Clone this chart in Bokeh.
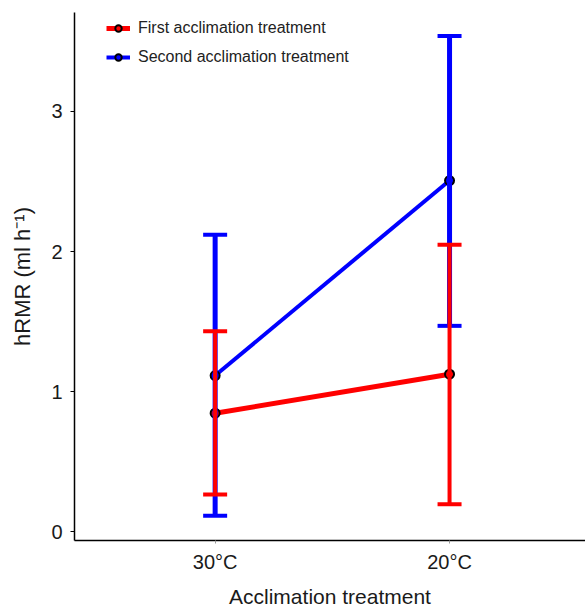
from bokeh.plotting import figure
from bokeh.models import ColumnDataSource, Whisker, TeeHead, FixedTicker, Legend, LegendItem
from bokeh.embed import file_html
from bokeh.resources import INLINE

categories = ["30°C", "20°C"]
first_mean = [0.845, 1.124]
first_upper = [1.43, 2.048]
first_lower = [0.264, 0.195]
second_mean = [1.114, 2.507]
second_upper = [2.12, 3.54]
second_lower = [0.112, 1.469]
series_names = ["First acclimation treatment", "Second acclimation treatment"]

xpos = [i + 1 for i in range(len(categories))]
FONT = "Liberation Sans"

p = figure(width=585, height=610, output_backend="svg", toolbar_location=None,
           x_range=(0.4, 2.58), y_range=(-0.064, 3.707),
           min_border_left=74, min_border_right=0, min_border_top=12, min_border_bottom=70)
p.outline_line_color = None
p.grid.visible = False
p.background_fill_color = "white"

src1 = ColumnDataSource(dict(x=xpos, m=first_mean, u=first_upper, l=first_lower))
src2 = ColumnDataSource(dict(x=xpos, m=second_mean, u=second_upper, l=second_lower))

w2 = Whisker(source=src2, base="x", upper="u", lower="l", line_color="#0000ff", line_width=5,
             upper_head=TeeHead(size=24, line_color="#0000ff", line_width=4),
             lower_head=TeeHead(size=24, line_color="#0000ff", line_width=4), level="glyph")
w1 = Whisker(source=src1, base="x", upper="u", lower="l", line_color="#ff0000", line_width=4,
             upper_head=TeeHead(size=24, line_color="#ff0000", line_width=4),
             lower_head=TeeHead(size=24, line_color="#ff0000", line_width=4), level="glyph")
p.add_layout(w2)
p.add_layout(w1)

l2 = p.line("x", "m", source=src2, line_color="#0000ff", line_width=4)
l1 = p.line("x", "m", source=src1, line_color="#ff0000", line_width=5)
c2 = p.scatter("x", "m", source=src2, size=9, fill_color="#0000ff", line_color="black", line_width=2)
c1 = p.scatter("x", "m", source=src1, size=9, fill_color="#ff0000", line_color="black", line_width=2)

legend = Legend(items=[LegendItem(label=series_names[0], renderers=[l1, c1]),
                       LegendItem(label=series_names[1], renderers=[l2, c2])],
                location="top_left", margin=0, padding=0, spacing=11,
                glyph_width=24, glyph_height=16, label_height=16, label_standoff=8,
                label_text_font=FONT, label_text_font_size="16px", label_text_color="#222222",
                border_line_color=None, background_fill_alpha=0)
p.add_layout(legend)
legend.location = (32, 474)

p.xaxis.ticker = FixedTicker(ticks=xpos)
p.xaxis.major_label_overrides = {x: c for x, c in zip(xpos, categories)}
p.yaxis.ticker = FixedTicker(ticks=[0, 1, 2, 3])
p.xaxis.axis_label = "Acclimation treatment"
p.yaxis.axis_label = "hRMR (ml h\u207b\u00b9)"
for ax in (p.xaxis[0], p.yaxis[0]):
    ax.axis_line_width = 1.5
    ax.axis_line_color = "black"
    ax.minor_tick_line_color = None
    ax.major_label_text_font = FONT
    ax.major_label_text_font_size = "20px"
    ax.major_label_text_color = "#1a1a1a"
    ax.axis_label_text_font = FONT
    ax.axis_label_text_font_size = "21px"
    ax.axis_label_text_font_style = "normal"
    ax.axis_label_text_color = "#1a1a1a"
p.yaxis.axis_label_text_font_size = "22px"
p.yaxis.major_tick_out = 4
p.yaxis.major_tick_in = 0
p.yaxis.major_tick_line_color = "black"
p.yaxis.major_label_standoff = 8
p.yaxis.axis_label_standoff = 13
p.xaxis.major_tick_out = 3
p.xaxis.major_tick_in = 0
p.xaxis.major_tick_line_color = "#999999"
p.xaxis.major_label_standoff = 7
p.xaxis.axis_label_standoff = 9

open("out.html", "w").write(file_html(p, INLINE))
